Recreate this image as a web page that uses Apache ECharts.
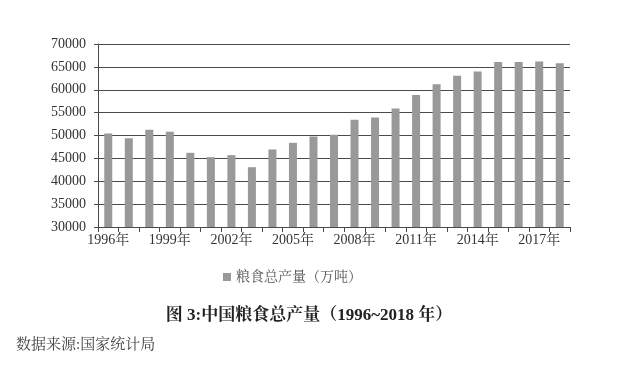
<!DOCTYPE html>
<html><head><meta charset="utf-8">
<script src="https://cdn.jsdelivr.net/npm/echarts@6/dist/echarts.min.js"></script>
<style>html,body{margin:0;padding:0;background:#fff}#c{width:618px;height:371px}</style>
</head><body><div id="c"></div>
<script>
const years = ['1996年','1997年','1998年','1999年','2000年','2001年','2002年','2003年','2004年','2005年','2006年','2007年','2008年','2009年','2010年','2011年','2012年','2013年','2014年','2015年','2016年','2017年','2018年'];
const output = [50454,49417,51230,50839,46218,45264,45706,43070,46947,48402,49804,50160,53434,53941,55911,58849,61223,63048,63965,66060,66044,66161,65789];
const seriesName = '粮食总产量（万吨）';
const titleText = '图 3:中国粮食总产量（1996~2018 年）';
const sourceText = '数据来源:国家统计局';

const serif = '"Liberation Serif","Noto Serif CJK SC","Noto Sans CJK SC",serif';
const chart = echarts.init(document.getElementById('c'));
chart.setOption({
  animation:false,
  backgroundColor:'#fff',
  title:[
    {text:titleText,left:'center',top:302,textStyle:{fontFamily:serif,fontSize:17,fontWeight:'bold',color:'#222'}},
    {text:sourceText,left:11,top:333,textStyle:{fontFamily:serif,fontSize:15,fontWeight:'normal',color:'#444'}}
  ],
  legend:{data:[seriesName],left:218,top:265,itemWidth:8,itemHeight:8,itemGap:7,icon:'rect',
    textStyle:{fontFamily:serif,fontSize:14,color:'#555'}},
  grid:{left:98,right:48,top:44,bottom:144,containLabel:false},
  xAxis:{type:'category',data:years,boundaryGap:true,
    axisLine:{lineStyle:{color:'#4a4a4a',width:1}},
    axisTick:{show:true,alignWithLabel:false,interval:0,length:5,lineStyle:{color:'#4a4a4a'}},
    axisLabel:{interval:2,margin:6,fontFamily:serif,fontSize:14,color:'#333'}},
  yAxis:{type:'value',min:30000,max:70000,interval:5000,
    axisLine:{show:true,lineStyle:{color:'#4a4a4a'}},
    axisTick:{show:true,length:4,lineStyle:{color:'#4a4a4a'}},
    splitLine:{lineStyle:{color:'#4a4a4a',width:1}},
    axisLabel:{margin:12,fontFamily:serif,fontSize:14,color:'#333',formatter:function(v){return String(v);}}},
  series:[{name:seriesName,type:'bar',data:output,barWidth:8,itemStyle:{color:'#999999'}}]
});
</script></body></html>
